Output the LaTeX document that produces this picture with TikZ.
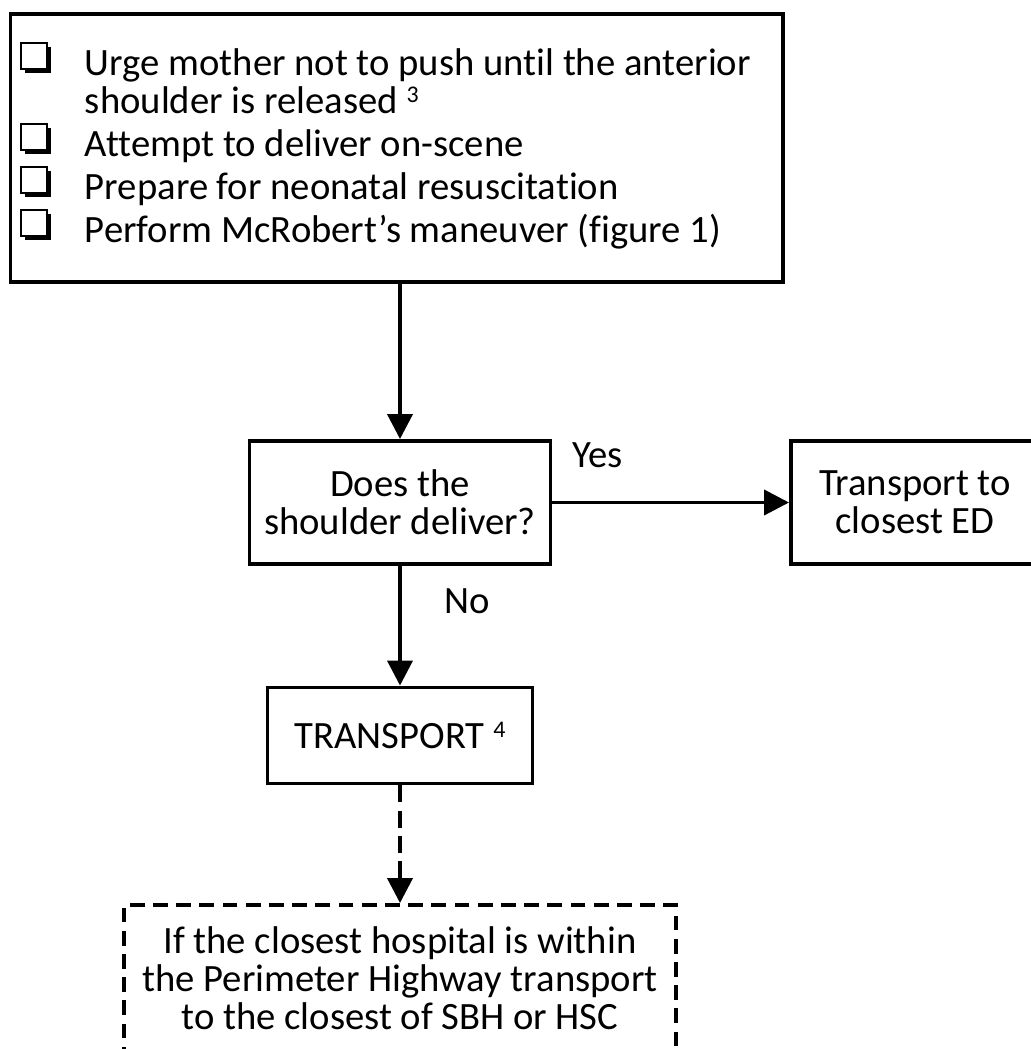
\documentclass[tikz,border=0pt]{standalone}
\usepackage{fontspec}
\setmainfont{Carlito}[Ligatures=NoCommon]
\usetikzlibrary{positioning,arrows.meta}

% raised footnote number
\newcommand\refnum[1]{\raisebox{0.28em}{\fontsize{17}{17}\selectfont #1}}

\begin{document}
\begin{tikzpicture}[font=\fontsize{27.5}{27}\selectfont, line width=2.8pt]
  \tikzset{
    box/.style={rectangle, draw=black, inner sep=0pt, align=center},
    dashbox/.style={box, dash pattern=on 10.5pt off 6pt},
    item/.style={anchor=base west, inner sep=0pt},
    flow/.style={-{Triangle[length=0.625cm, width=0.625cm]}},
    chkbox/.pic={
      \fill (-0.22,-0.43) rectangle (0.43,0.22);
      \draw[line width=1.4pt, fill=white] (-0.33,-0.33) rectangle (0.33,0.33);
    }
  }
  \useasboundingbox (0,0) rectangle (25.775,-26.225);

  % checklist box
  \node[box, minimum width=19.3125cm, minimum height=6.7cm] (steps) at (9.919,-3.7) {};
  \node[item] (item1) at (2.075,-1.875) {Urge mother not to push until the anterior};
  \node[below=0.95cm of item1.base west, item] (item1b) {shoulder is released \refnum{3}};
  \node[below=1.075cm of item1b.base west, item] (item2) {Attempt to deliver on-scene};
  \node[below=1.075cm of item2.base west, item] (item3) {Prepare for neonatal resuscitation};
  \node[below=1.075cm of item3.base west, item] (item4) {Perform McRobert’s maneuver (figure 1)};
  \foreach \n in {item1,item2,item3,item4}
    \pic at ([shift={(-1.22,0.48)}]\n.base west) {chkbox};

  % decision and outcomes
  \node[box, minimum width=7.525cm, minimum height=3.075cm] (check) at (10.0,-12.5625) {Does the\\shoulder deliver?};
  \node[box, minimum width=6.2cm, minimum height=3.075cm] (closeED) at (22.875,-12.5625) {Transport to\\closest ED};
  \node[box, minimum width=6.625cm, minimum height=2.4cm] (transp) at (10.0,-18.3875) {TRANSPORT \refnum{4}};
  \node[dashbox, minimum width=13.8cm, minimum height=3.65cm] (hosp) at (10.0,-24.45) {If the closest hospital is within\\the Perimeter Highway transport\\to the closest of SBH or HSC};

  \draw[flow] (steps.south -| check.north) -- (check.north);
  \draw[flow] (check.east) -- node[pos=0.19, above=0.82cm, inner sep=0pt] (yes) {Yes} (closeED.west);
  \draw[flow] (check.south) -- node[pos=0.4, anchor=base west, xshift=1.075cm, inner sep=0pt] (no) {No} (transp.north);
  \draw[flow, dash pattern=on 12pt off 6pt] (transp.south) -- (hosp.north);
\end{tikzpicture}
\end{document}
